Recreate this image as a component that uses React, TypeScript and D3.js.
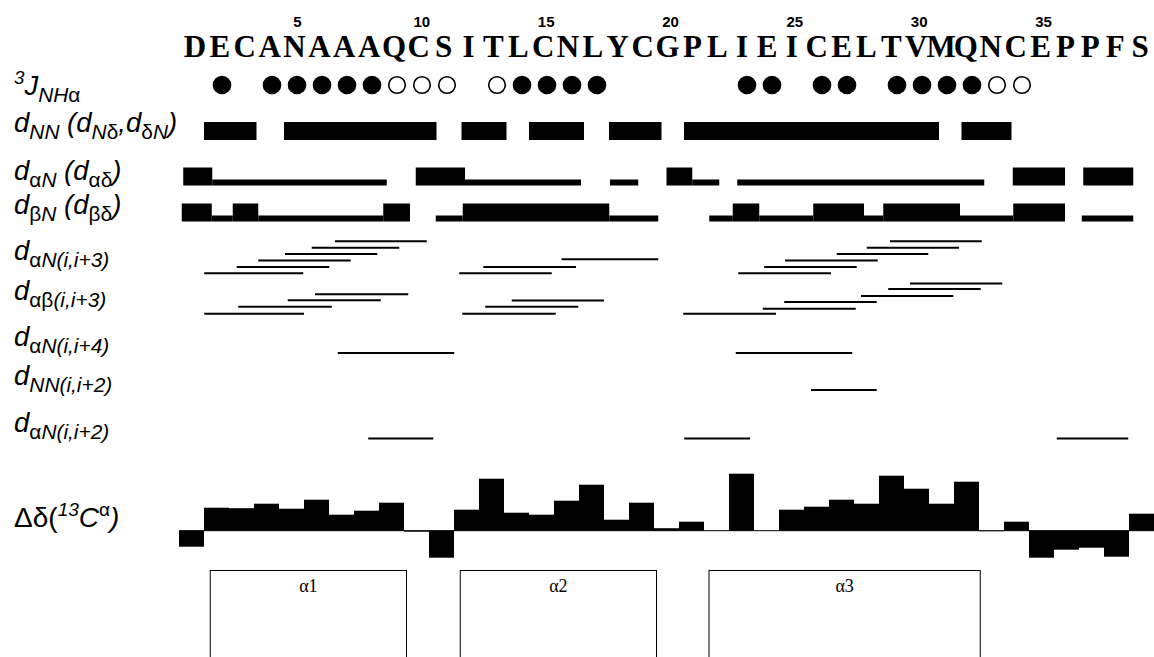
import React from 'react';
import * as d3 from 'd3';

const sequence = 'DECANAAAQCSITLCNLYCGPLIEICELTVMQNCEPPFS'.split('');
const numberTicks = [5, 10, 15, 20, 25, 30, 35];

// 3J(NH,Ha) coupling: filled = small, open = large
const jFilled = [2, 4, 5, 6, 7, 8, 14, 15, 16, 17, 23, 24, 26, 27, 29, 30, 31, 32];
const jOpen = [9, 10, 11, 13, 33, 34];

// sequential NOE segments, in residue units [from, to]
const dNN = [[1.5, 3.6], [4.7, 10.8], [11.8, 13.6], [14.5, 16.7], [17.7, 19.8], [20.7, 30.9], [31.8, 33.8]];
const dANStrong = [[0.67, 1.83], [9.97, 11.94], [20.0, 21.03], [33.85, 35.94], [36.67, 38.67]];
const dANWeak = [[1.83, 8.81], [11.94, 16.58], [17.74, 18.87], [21.03, 22.11], [22.83, 32.71]];
const dBNStrong = [[0.61, 1.81], [2.65, 3.67], [8.67, 9.74], [11.85, 17.71], [22.65, 23.71], [25.87, 27.9], [28.67, 31.74], [33.87, 35.94]];
const dBNWeak = [[1.81, 2.65], [3.67, 8.67], [10.77, 11.85], [17.71, 19.67], [21.71, 22.65], [23.71, 25.87], [27.9, 28.67], [31.74, 33.87], [36.61, 38.67]];

// medium range NOEs: [from, to, stack level]
const dAN3 = [
  [1.51, 5.47, 0], [2.81, 6.51, 1], [3.67, 7.37, 2], [4.74, 8.43, 3], [5.81, 9.31, 4], [6.74, 10.41, 5],
  [11.71, 15.41, 0], [12.67, 16.38, 1], [15.8, 19.67, 2.2],
  [22.87, 26.58, 0], [23.91, 27.61, 1], [24.74, 28.45, 2], [26.81, 30.47, 3], [28.01, 31.7, 4], [28.94, 32.61, 5],
];
const dAB3 = [
  [1.51, 5.5, 0], [2.87, 6.61, 1.15], [4.85, 8.57, 2.2], [5.94, 9.67, 3.2],
  [11.83, 15.57, 0], [12.75, 16.47, 1.15], [13.81, 17.5, 2.15],
  [20.67, 24.38, 0], [23.85, 27.57, 0.8], [24.71, 28.41, 1.9], [27.78, 31.47, 2.9], [28.87, 32.57, 4.05], [29.74, 33.43, 4.95],
];
const dAN4 = [[6.85, 11.51], [22.77, 27.43]];
const dNN2 = [[25.78, 28.41]];
const dAN2 = [[8.07, 10.67], [20.71, 23.34], [35.61, 38.47]];

// 13C alpha secondary shifts (ppm)
const deltaCA = [
  -1.6, 2.3, 2.25, 2.7, 2.2, 3.1, 1.6, 2.0, 2.8, -0.1,
  -2.7, 2.1, 5.2, 1.8, 1.6, 3.0, 4.6, 1.1, 2.8, 0.25,
  0.9, 0.0, 5.7, 0.0, 2.1, 2.4, 3.1, 2.7, 5.5, 4.2,
  2.7, 4.9, -0.05, 0.9, -2.7, -1.9, -1.7, -2.6, 1.7,
];

const helices = [
  { name: 'α1', from: 1.75, to: 9.6 },
  { name: 'α2', from: 11.75, to: 19.6 },
  { name: 'α3', from: 21.7, to: 32.55 },
];

type Part = { t: string; sub?: boolean; sup?: boolean; up?: boolean };

const labels: { y: number; size?: number; parts: Part[] }[] = [
  { y: 95, parts: [{ t: '3', sup: true }, { t: 'J' }, { t: 'NH', sub: true }, { t: 'α', sub: true, up: true }] },
  { y: 132, parts: [{ t: 'd' }, { t: 'NN', sub: true }, { t: ' (' }, { t: 'd' }, { t: 'N', sub: true }, { t: 'δ', sub: true, up: true }, { t: ',' }, { t: 'd' }, { t: 'δ', sub: true, up: true }, { t: 'N', sub: true }, { t: ')' }] },
  { y: 180, parts: [{ t: 'd' }, { t: 'α', sub: true, up: true }, { t: 'N', sub: true }, { t: ' (' }, { t: 'd' }, { t: 'αδ', sub: true, up: true }, { t: ')' }] },
  { y: 214, parts: [{ t: 'd' }, { t: 'β', sub: true, up: true }, { t: 'N', sub: true }, { t: ' (' }, { t: 'd' }, { t: 'βδ', sub: true, up: true }, { t: ')' }] },
  { y: 260, parts: [{ t: 'd' }, { t: 'α', sub: true, up: true }, { t: 'N(i,i+3)', sub: true }] },
  { y: 300, parts: [{ t: 'd' }, { t: 'αβ', sub: true, up: true }, { t: '(i,i+3)', sub: true }] },
  { y: 346, parts: [{ t: 'd' }, { t: 'α', sub: true, up: true }, { t: 'N(i,i+4)', sub: true }] },
  { y: 385, parts: [{ t: 'd' }, { t: 'NN(i,i+2)', sub: true }] },
  { y: 432, parts: [{ t: 'd' }, { t: 'α', sub: true, up: true }, { t: 'N(i,i+2)', sub: true }] },
  { y: 527, size: 28, parts: [{ t: 'Δδ(', up: true }, { t: '13', sup: true }, { t: 'C' }, { t: 'α', sup: true, up: true }, { t: ')' }] },
];

function Label({ y, size = 27.5, parts }: { y: number; size?: number; parts: Part[] }) {
  let cur = 0;
  const subSize = size * 0.76, supSize = size * 0.68;
  return (
    <text x={14} y={y} fontFamily="Liberation Sans, Arial, sans-serif" fontStyle="italic" fontSize={size} fill="#000">
      {parts.map((p, i) => {
        const target = p.sub ? size * 0.27 : p.sup ? -size * 0.4 : 0;
        const dy = target - cur;
        cur = target;
        return (
          <tspan key={i} dy={dy} fontSize={p.sub ? subSize : p.sup ? supSize : size} fontStyle={p.up ? 'normal' : 'italic'}>
            {p.t}
          </tspan>
        );
      })}
    </text>
  );
}

export default function App() {
  const W = 1154, H = 657;
  const xPos = d3.scaleLinear().domain([0.5, 39.5]).range([179, 1154]);
  const xBand = d3.scaleBand<number>().domain(d3.range(1, 40)).range([179, 1154]).padding(0);
  const xLetter = d3.scaleLinear().domain([1, 39]).range([195, 1140]);
  const xDot = d3.scaleLinear().domain([1, 39]).range([197, 1147]);
  const yShift = d3.scaleLinear().domain([-3, 6]).range([560.7, 470.7]);

  const bars = (segs: number[][], top: number, h: number, key: string) =>
    segs.map((s, i) => (
      <rect key={key + i} x={xPos(s[0])} y={top} width={xPos(s[1]) - xPos(s[0])} height={h} fill="#000" />
    ));

  const lines = (segs: number[][], y0: number, step: number, key: string) =>
    segs.map((s, i) => {
      const y = y0 - (s[2] || 0) * step;
      return <line key={key + i} x1={xPos(s[0])} x2={xPos(s[1])} y1={y} y2={y} stroke="#000" strokeWidth={2} />;
    });

  return (
    <svg width={W} height={H} style={{ position: 'absolute', left: 0, top: 0, background: '#fff' }}>
      {/* residue numbers */}
      {numberTicks.map(n => (
        <text key={'n' + n} x={xLetter(n) + 3} y={27} textAnchor="middle" fontFamily="Liberation Sans, Arial, sans-serif" fontWeight="bold" fontSize={15}>{n}</text>
      ))}
      {/* sequence */}
      {sequence.map((aa, i) => (
        <text key={'s' + i} x={xLetter(i + 1)} y={57} textAnchor="middle" fontFamily="Liberation Serif, Times New Roman, serif" fontWeight="bold" fontSize={31}>{aa}</text>
      ))}

      {/* 3J coupling */}
      {jFilled.map(r => <circle key={'jf' + r} cx={xDot(r)} cy={85} r={9.3} fill="#000" />)}
      {jOpen.map(r => <circle key={'jo' + r} cx={xDot(r)} cy={85} r={8.3} fill="#fff" stroke="#000" strokeWidth={1.6} />)}

      {/* sequential NOEs */}
      {bars(dNN, 122, 18, 'nn')}
      {bars(dANStrong, 167.5, 18, 'ans')}
      {bars(dANWeak, 179.5, 6, 'anw')}
      {bars(dBNStrong, 203.5, 18, 'bns')}
      {bars(dBNWeak, 215.5, 6, 'bnw')}

      {/* medium range NOEs */}
      {lines(dAN3, 273.3, 6.4, 'a3')}
      {lines(dAB3, 313.7, 6.1, 'b3')}
      {lines(dAN4, 353, 0, 'a4')}
      {lines(dNN2, 390, 0, 'n2')}
      {lines(dAN2, 438.5, 0, 'a2')}

      {/* C alpha secondary shifts */}
      <line x1={179} x2={1154} y1={yShift(0)} y2={yShift(0)} stroke="#000" strokeWidth={1} />
      {deltaCA.map((v, i) => (
        <rect key={'d' + i} x={xBand(i + 1)} y={Math.min(yShift(v), yShift(0))} width={xBand.bandwidth()} height={Math.abs(yShift(v) - yShift(0))} fill="#000" />
      ))}

      {/* helix boxes */}
      {helices.map(h => (
        <g key={h.name}>
          <rect x={xPos(h.from)} y={570.5} width={xPos(h.to) - xPos(h.from)} height={120} fill="none" stroke="#000" strokeWidth={1} />
          <text x={(xPos(h.from) + xPos(h.to)) / 2} y={592} textAnchor="middle" fontFamily="Liberation Serif, Times New Roman, serif" fontSize={18}>{h.name}</text>
        </g>
      ))}

      {labels.map((l, i) => <Label key={'l' + i} y={l.y} size={l.size} parts={l.parts} />)}
    </svg>
  );
}
